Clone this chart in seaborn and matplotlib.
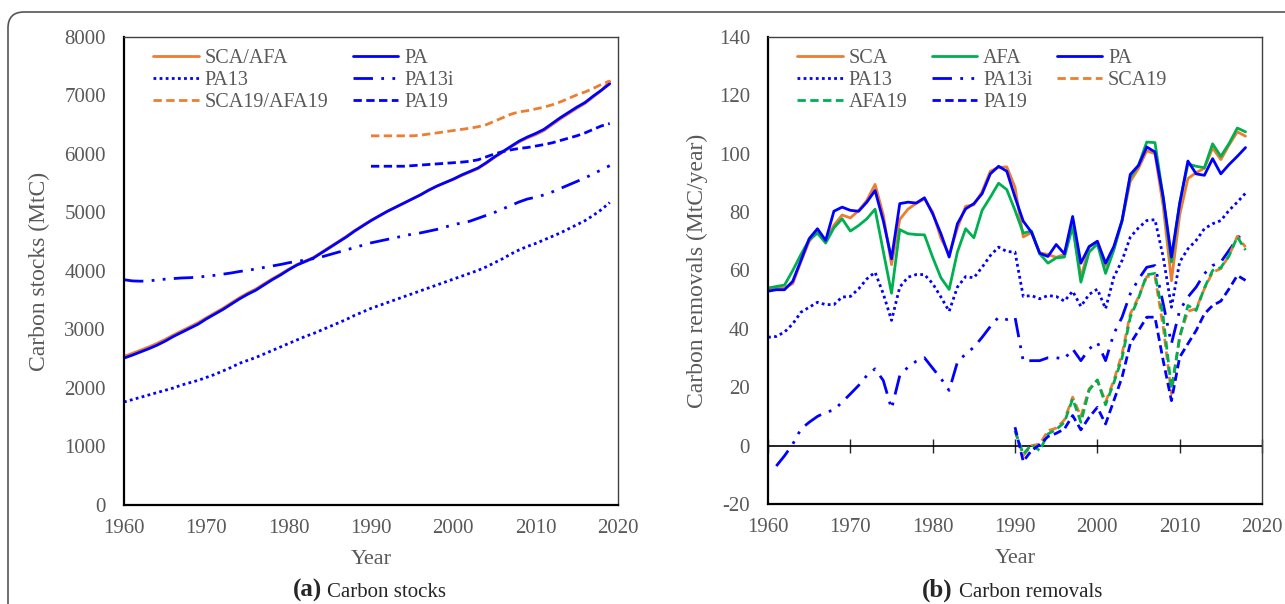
import numpy as np
import pandas as pd
import seaborn as sns
import matplotlib.pyplot as plt
from matplotlib.patches import FancyBboxPatch
from matplotlib.transforms import IdentityTransform

# ----------------------
# (a) carbon stocks (MtC), 1960-2019
# ----------------------
years_a = list(range(1960, 2020))
years_a19 = list(range(1990, 2020))

stock_sca_afa = [2540, 2590, 2645, 2700, 2760, 2830, 2905, 2975, 3045, 3115,
                 3200, 3280, 3360, 3450, 3540, 3620, 3690, 3780, 3865, 3945,
                 4030, 4110, 4170, 4230, 4320, 4410, 4500, 4590, 4690, 4780,
                 4865, 4945, 5020, 5090, 5160, 5230, 5300, 5380, 5450, 5510,
                 5565, 5630, 5690, 5750, 5840, 5940, 6030, 6120, 6205, 6275,
                 6330, 6400, 6500, 6600, 6690, 6780, 6865, 6975, 7090, 7240]
stock_pa = [2510, 2560, 2615, 2670, 2730, 2800, 2880, 2950, 3020, 3090,
            3180, 3260, 3340, 3430, 3520, 3600, 3670, 3760, 3850, 3930,
            4020, 4100, 4160, 4220, 4310, 4400, 4490, 4580, 4680, 4770,
            4860, 4940, 5020, 5090, 5160, 5230, 5300, 5380, 5450, 5510,
            5570, 5640, 5700, 5760, 5850, 5950, 6040, 6130, 6220, 6290,
            6350, 6420, 6520, 6620, 6710, 6800, 6880, 6990, 7090, 7200]
stock_pa13 = [1760, 1800, 1840, 1880, 1920, 1960, 2000, 2050, 2090, 2130,
              2180, 2230, 2290, 2350, 2420, 2470, 2520, 2580, 2640, 2700,
              2760, 2820, 2880, 2930, 2990, 3050, 3110, 3170, 3240, 3300,
              3360, 3410, 3460, 3510, 3560, 3610, 3660, 3710, 3760, 3810,
              3860, 3910, 3960, 4010, 4070, 4140, 4210, 4290, 4360, 4420,
              4470, 4530, 4590, 4650, 4720, 4790, 4860, 4950, 5050, 5170]
stock_pa13i = [3850, 3830, 3825, 3830, 3845, 3860, 3870, 3880, 3885, 3895,
               3910, 3925, 3945, 3965, 3990, 4010, 4035, 4060, 4085, 4110,
               4140, 4165, 4185, 4210, 4240, 4280, 4320, 4360, 4400, 4440,
               4480, 4510, 4540, 4570, 4600, 4630, 4650, 4680, 4710, 4750,
               4790, 4820, 4850, 4900, 4950, 5000, 5060, 5120, 5180, 5230,
               5260, 5300, 5350, 5410, 5470, 5530, 5590, 5660, 5730, 5800]
stock_sca19 = [6310, 6310, 6310, 6310, 6310, 6310, 6320, 6340, 6360, 6380,
               6400, 6420, 6440, 6465, 6500, 6560, 6620, 6680, 6720, 6740,
               6770, 6800, 6840, 6890, 6950, 7010, 7060, 7120, 7190, 7250]
stock_pa19 = [5790, 5790, 5790, 5790, 5790, 5800, 5810, 5820, 5830, 5840,
              5850, 5860, 5875, 5900, 5950, 6000, 6040, 6070, 6095, 6110,
              6135, 6160, 6190, 6230, 6270, 6310, 6360, 6420, 6480, 6520]

# ----------------------
# (b) carbon removals (MtC/year), 1960-2018
# ----------------------
years_b = list(range(1960, 2019))
years_b13i = list(range(1961, 2019))
years_b19 = list(range(1990, 2019))

rem_sca = [53.5, 54, 54, 55.5, 63, 70, 73.5, 70, 75.5, 79,
           78, 80.5, 84, 89.5, 79, 62, 77.5, 81, 83, 84.5,
           80, 71, 65.5, 74.5, 82, 82.5, 87, 94, 95.3, 95.5,
           88.5, 71.5, 73, 66, 65.5, 64.5, 65.5, 76, 57.5, 68,
           70, 61.5, 67.5, 77, 90.5, 95, 101, 100, 82, 56.5,
           79, 91.5, 93.5, 95, 102, 98, 103, 107.5, 106]
rem_afa = [54, 54.5, 55, 60, 65.5, 70.5, 72.8, 69.4, 74.6, 77.7,
           73.5, 75.4, 77.7, 81, 66.5, 52.2, 74, 72.6, 72.3, 72.2,
           64.5, 57.5, 53.5, 66.3, 74.3, 71.2, 80.6, 85.1, 89.9, 87.7,
           80.6, 72.8, 73.5, 65.7, 62.5, 64.3, 64.6, 75.1, 56, 66.3,
           69.1, 59, 67, 77, 92, 96, 104, 103.8, 85, 62.9,
           83, 96.5, 95.7, 95.2, 103.4, 99.1, 103.5, 108.8, 107.5]
rem_pa = [52.9, 53.4, 53.4, 56.3, 63.5, 70.9, 74.3, 70.3, 80.3, 81.7,
          80.6, 80.3, 83.4, 87.4, 77, 64, 82.9, 83.4, 83.1, 84.9,
          79.4, 72.6, 64.6, 76, 81.1, 82.9, 86.3, 93.1, 95.7, 94,
          85.1, 76.9, 73.1, 65.9, 64.8, 68.9, 65.7, 78.5, 62.5, 68.2,
          70, 62.5, 68.2, 77.1, 92.9, 96, 102.3, 100.6, 85.1, 64.6,
          82.9, 97.5, 93.1, 92.6, 98.3, 93.1, 96.3, 99.1, 102.1]
rem_pa13 = [37.1, 37.4, 38.9, 41.7, 45.7, 47.4, 49.1, 48.3, 48.3, 50.9,
            51.1, 53.7, 57.1, 59.4, 52, 42.9, 54.3, 57.7, 58.6, 58.6,
            55.5, 50.9, 46, 54.3, 57.9, 57.5, 61.1, 65.1, 68, 66.5,
            66.3, 51.1, 51.4, 50.3, 51.4, 51.1, 49.5, 52.9, 47.7, 51.8,
            53.6, 46.9, 57.7, 63.4, 71.4, 74.6, 77.1, 77.4, 64.6, 47.4,
            62.9, 67.4, 70.3, 74.3, 76, 77.1, 80.6, 83.4, 86.5]
rem_pa13i = [-7, -3.5, 0.5, 5.7, 8, 10, 11.4, 12.2, 14.9,
             17.7, 20.6, 24, 26.3, 22.3, 12.6, 24, 26.9, 28.9, 30.1,
             26.5, 23, 18.9, 28.6, 31.4, 33.7, 37.1, 40.8, 44, 43.2,
             44, 28.9, 29.1, 29.1, 30.1, 30.1, 29.7, 33.1, 29.1, 33.1,
             35.4, 29.1, 38.3, 44, 52, 57, 61.1, 61.7, 48.6, 34.9,
             46.3, 50.9, 54.3, 58.9, 61.7, 62.9, 66.9, 70.9, 73.9]
rem_sca19 = [5, -3.4, 0, 0.5, 5.1, 6, 8.8, 16.6, 10, 19.4,
             22.4, 14.9, 22.3, 31.4, 45.1, 50.9, 57.9, 57.9, 40.6, 17.7,
             37.5, 46, 46.9, 53.7, 59.4, 60.6, 65.1, 71.7, 68]
rem_afa19 = [5, -2.9, 0.3, -1.7, 4, 5.5, 8, 16, 8, 19,
             22.5, 14, 21.5, 30, 44, 50.5, 58.5, 59, 44, 19.5,
             37, 48, 46.3, 54, 60, 61, 65, 71.5, 67]
rem_pa19 = [6.3, -5.4, -1.7, 0.3, 3.1, 4.2, 5.7, 10.3, 5.4, 9.7,
            13.1, 7.4, 15.4, 23.4, 34.9, 39.4, 44, 44, 29.1, 15.4,
            30.3, 34.9, 39.4, 45.1, 48, 49.5, 53.7, 58.3, 56.6]

ORANGE = "#ED7D31"
GREEN = "#00B050"
BLUE = "#0000FF"
GREY = "#595959"

SOLID = "-"
DOTTED = (0, (1, 1.2))
DASHDOTDOT = (0, (7, 3, 1, 3, 1, 3))
DASHED = (0, (3, 1.6))

sns.set_style("white")
plt.rcParams['font.family'] = ['Liberation Serif', 'DejaVu Serif']
plt.rcParams['axes.unicode_minus'] = False


def draw(ax, x, y, color, ls, label, lw=2):
    df = pd.DataFrame({"year": x, "value": y})
    sns.lineplot(data=df, x="year", y="value", ax=ax, color=color,
                 linestyle=ls, linewidth=lw, label=label)


def style_axes(ax):
    for side in ["left", "bottom"]:
        ax.spines[side].set_color("black")
        ax.spines[side].set_linewidth(1.6)
    for side in ["top", "right"]:
        ax.spines[side].set_color("#404040")
        ax.spines[side].set_linewidth(1.0)
    ax.tick_params(axis="both", labelsize=15, labelcolor=GREY, colors="black")
    ax.tick_params(axis="y", direction="out", length=5, width=1, pad=8)
    ax.tick_params(axis="x", pad=10)
    ax.set_xlim(1960, 2020)
    ax.set_xticks(range(1960, 2021, 10))
    ax.set_xlabel("Year", fontsize=16, color=GREY, labelpad=9)


# legend filled row by row, like the original
def row_legend(ax, order, ncol):
    handles, labels = ax.get_legend_handles_labels()
    leg = ax.legend([handles[i] for i in order], [labels[i] for i in order],
                    ncol=ncol, loc="upper left", frameon=False, fontsize=14.5,
                    handlelength=2.25, labelspacing=0.15, columnspacing=1.2,
                    handletextpad=0.3, borderaxespad=0.2,
                    bbox_to_anchor=(0.035, 1.0))
    for t in leg.get_texts():
        t.set_color(GREY)


fig = plt.figure(figsize=(12.85, 6.04), dpi=100)

# ----------------------
# panel (a)
# ----------------------
ax1 = fig.add_axes([0.0965, 0.164, 0.3844, 0.7748])
draw(ax1, years_a, stock_sca_afa, ORANGE, SOLID, "SCA/AFA")
draw(ax1, years_a, stock_pa, BLUE, SOLID, "PA")
draw(ax1, years_a, stock_pa13, BLUE, DOTTED, "PA13")
draw(ax1, years_a, stock_pa13i, BLUE, DASHDOTDOT, "PA13i")
draw(ax1, years_a19, stock_sca19, ORANGE, DASHED, "SCA19/AFA19")
draw(ax1, years_a19, stock_pa19, BLUE, DASHED, "PA19")
style_axes(ax1)
ax1.set_ylim(0, 8000)
ax1.set_yticks(range(0, 8001, 1000))
ax1.tick_params(axis="x", direction="in", length=5, width=1)
ax1.set_ylabel("Carbon stocks (MtC)", fontsize=17, color=GREY, labelpad=10)
row_legend(ax1, [0, 2, 4, 1, 3, 5], 2)

# ----------------------
# panel (b)
# ----------------------
ax2 = fig.add_axes([0.5977, 0.1656, 0.3844, 0.7732])
draw(ax2, years_b, rem_sca, ORANGE, SOLID, "SCA")
draw(ax2, years_b, rem_afa, GREEN, SOLID, "AFA")
draw(ax2, years_b, rem_pa, BLUE, SOLID, "PA")
draw(ax2, years_b, rem_pa13, BLUE, DOTTED, "PA13")
draw(ax2, years_b13i, rem_pa13i, BLUE, DASHDOTDOT, "PA13i")
draw(ax2, years_b19, rem_sca19, ORANGE, DASHED, "SCA19")
draw(ax2, years_b19, rem_afa19, GREEN, DASHED, "AFA19")
draw(ax2, years_b19, rem_pa19, BLUE, DASHED, "PA19")
style_axes(ax2)
ax2.set_ylim(-20, 140)
ax2.set_yticks(range(-20, 141, 20))
ax2.tick_params(axis="x", length=0)
ax2.axhline(0, color="black", linewidth=1.2, zorder=1)
# tick marks sit on the zero line, labels stay at the bottom
zero_axis = ax2.secondary_xaxis(20 / 160)
zero_axis.set_xticks(range(1960, 2021, 10))
zero_axis.tick_params(direction="inout", length=10, width=1, labelbottom=False,
                      labeltop=False)
zero_axis.spines["bottom"].set_visible(False)
zero_axis.spines["top"].set_visible(False)
zero_axis.set_xticklabels([])
ax2.set_ylabel("Carbon removals (MtC/year)", fontsize=17, color=GREY, labelpad=8)
row_legend(ax2, [0, 3, 6, 1, 4, 7, 2, 5], 3)

# captions
fig.text(0.2506, 0.012, "(a)", fontsize=18, fontweight="bold", ha="right", va="baseline")
fig.text(0.2545, 0.012, "Carbon stocks", fontsize=15, ha="left", va="baseline")
fig.text(0.7416, 0.012, "(b)", fontsize=18, fontweight="bold", ha="right", va="baseline")
fig.text(0.7463, 0.012, "Carbon removals", fontsize=15, ha="left", va="baseline")

# rounded border round the whole figure
border = FancyBboxPatch((8, -60), 1400, 652, boxstyle="round,pad=0,rounding_size=16",
                        transform=IdentityTransform(), facecolor="none",
                        edgecolor="#555555", linewidth=1.2)
fig.add_artist(border)

fig.savefig("out.png", dpi=100)
